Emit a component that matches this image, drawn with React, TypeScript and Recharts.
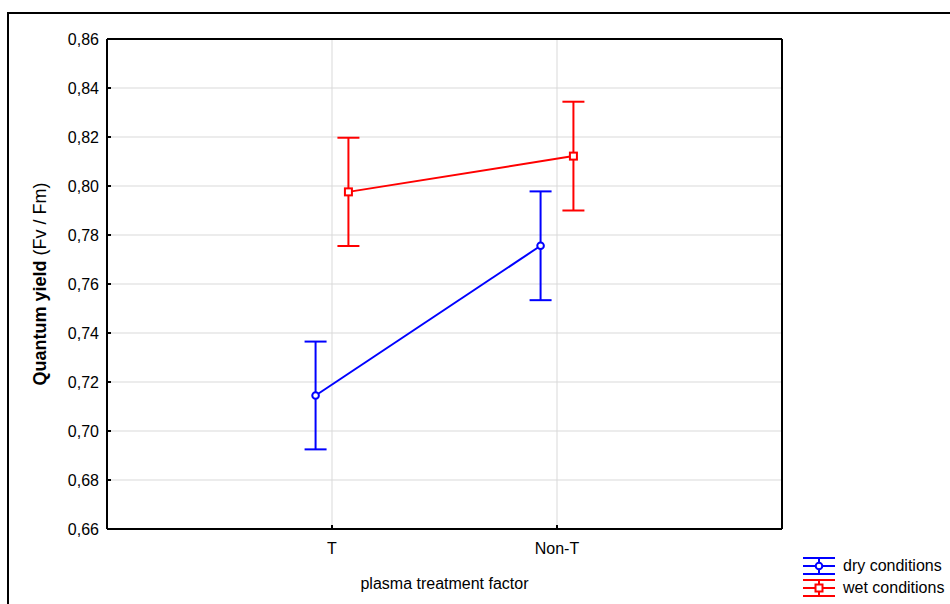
import React from 'react';
import { ComposedChart, Line, XAxis, YAxis, CartesianGrid, ErrorBar, Legend, Label } from 'recharts';

const categories = ['T', 'Non-T'];
const dryMeans = [0.7145, 0.7756];
const dryErrors = [0.022, 0.0222];
const wetMeans = [0.7976, 0.8122];
const wetErrors = [0.0221, 0.0222];
const yTicks = [0.66, 0.68, 0.7, 0.72, 0.74, 0.76, 0.78, 0.8, 0.82, 0.84, 0.86];
const xTicks = [1, 2];
const seriesNames = ['dry conditions', 'wet conditions'];
const seriesColors = ['#0000FF', '#FF0000'];

const FONT = '"Liberation Sans", Arial, sans-serif';
const OFFSET = 0.073;

const dryData = categories.map((c, i) => ({ cat: c, x: i + 1 - OFFSET, y: dryMeans[i], err: dryErrors[i] }));
const wetData = categories.map((c, i) => ({ cat: c, x: i + 1 + OFFSET, y: wetMeans[i], err: wetErrors[i] }));

const CircleDot = (props: any) => {
  const { cx, cy, index } = props;
  return <circle key={`c-${index}`} cx={cx} cy={cy} r={3.3} fill="#fff" stroke={seriesColors[0]} strokeWidth={2} />;
};
const SquareDot = (props: any) => {
  const { cx, cy, index } = props;
  return <rect key={`s-${index}`} x={cx - 3.5} y={cy - 3.5} width={7} height={7} fill="#fff" stroke={seriesColors[1]} strokeWidth={2} />;
};

const LegendIcon = ({ color, square }: { color: string; square: boolean }) => (
  <svg width={32} height={18} style={{ display: 'block' }}>
    <line x1={0} x2={32} y1={1} y2={1} stroke={color} strokeWidth={2} />
    <line x1={0} x2={32} y1={9} y2={9} stroke={color} strokeWidth={2} />
    <line x1={0} x2={32} y1={17} y2={17} stroke={color} strokeWidth={2} />
    <line x1={16} x2={16} y1={1} y2={17} stroke={color} strokeWidth={2} />
    {square ? (
      <rect x={12.5} y={5.5} width={7} height={7} fill="#fff" stroke={color} strokeWidth={2} />
    ) : (
      <circle cx={16} cy={9} r={3.3} fill="#fff" stroke={color} strokeWidth={2} />
    )}
  </svg>
);

const LegendContent = () => (
  <div style={{ fontFamily: FONT, fontSize: 16, color: '#000' }}>
    {seriesNames.map((n, i) => (
      <div key={n} style={{ display: 'flex', alignItems: 'center', height: 22 }}>
        <LegendIcon color={seriesColors[i]} square={i === 1} />
        <span style={{ marginLeft: 8, lineHeight: '18px' }}>{n}</span>
      </div>
    ))}
  </div>
);

const YLabel = (props: any) => {
  const vb = props.viewBox || {};
  const x = (vb.x ?? 0) + 40;
  const y = (vb.y ?? 0) + (vb.height ?? 0) / 2;
  return (
    <text x={x} y={y} transform={`rotate(-90, ${x}, ${y})`} textAnchor="middle" dominantBaseline="central"
      fontFamily={FONT} fontSize={18} fill="#000">
      <tspan fontWeight="bold">Quantum yield</tspan>
      <tspan> (Fv / Fm)</tspan>
    </text>
  );
};

const XLabel = (props: any) => {
  const vb = props.viewBox || {};
  const x = (vb.x ?? 0) + (vb.width ?? 0) / 2;
  const y = (vb.y ?? 0) + 54;
  return (
    <text x={x} y={y} textAnchor="middle" dominantBaseline="central" fontFamily={FONT} fontSize={16} fill="#000">
      plasma treatment factor
    </text>
  );
};

const axisLine = { stroke: '#000', strokeWidth: 2 };
const tickLine = { stroke: '#000', strokeWidth: 2 };
const tickStyle = { fill: '#000', fontSize: 16, fontFamily: FONT };

export default function App() {
  return (
    <div style={{ position: 'absolute', left: 0, top: 0, width: 950, height: 604, overflow: 'hidden', background: '#fff' }}>
      <div style={{ position: 'absolute', left: 7, top: 12, width: 1000, height: 700, border: '2px solid #000', boxShadow: '0 1px 0 #bbb' }} />
      <div style={{ position: 'absolute', left: 0, top: 0 }}>
        <ComposedChart width={950} height={604} margin={{ top: 38, right: 167, bottom: 0, left: 0 }}>
          <CartesianGrid stroke="#d9d9d9" strokeWidth={1} xAxisId={0} yAxisId={0} />
          <XAxis xAxisId={0} dataKey="x" type="number" domain={[0, 3]} ticks={xTicks} interval={0}
            allowDataOverflow height={75}
            tickFormatter={(v: number) => categories[Math.round(v) - 1]}
            axisLine={axisLine} tickLine={tickLine} tickSize={-4} tickMargin={18} tick={tickStyle}>
            <Label content={<XLabel />} />
          </XAxis>
          <XAxis xAxisId="top" orientation="top" dataKey="x" type="number" domain={[0, 3]} ticks={xTicks} interval={0}
            allowDataOverflow height={1} axisLine={axisLine} tickLine={tickLine} tickSize={-4} tick={false} />
          <YAxis yAxisId={0} type="number" domain={[0.66, 0.86]} ticks={yTicks} interval={0} allowDataOverflow width={107}
            tickFormatter={(v: number) => v.toFixed(2).replace('.', ',')}
            axisLine={axisLine} tickLine={tickLine} tickSize={-4} tickMargin={12} tick={tickStyle}>
            <Label content={<YLabel />} />
          </YAxis>
          <YAxis yAxisId="r" orientation="right" type="number" domain={[0.66, 0.86]} ticks={yTicks} interval={0}
            allowDataOverflow width={1} axisLine={axisLine} tickLine={tickLine} tickSize={-4} tick={false} />
          <Line data={wetData} dataKey="y" xAxisId="top" yAxisId="r" stroke="none" strokeWidth={0} dot={false}
            activeDot={false} legendType="none" isAnimationActive={false} />
          <Line data={dryData} dataKey="y" name={seriesNames[0]} xAxisId={0} yAxisId={0} stroke={seriesColors[0]}
            strokeWidth={2} dot={CircleDot} activeDot={false} isAnimationActive={false} type="linear">
            <ErrorBar dataKey="err" direction="y" width={11} strokeWidth={2} stroke={seriesColors[0]} isAnimationActive={false} />
          </Line>
          <Line data={wetData} dataKey="y" name={seriesNames[1]} xAxisId={0} yAxisId={0} stroke={seriesColors[1]}
            strokeWidth={2} dot={SquareDot} activeDot={false} isAnimationActive={false} type="linear">
            <ErrorBar dataKey="err" direction="y" width={11} strokeWidth={2} stroke={seriesColors[1]} isAnimationActive={false} />
          </Line>
          <Legend layout="vertical" align="center" verticalAlign="middle" content={<LegendContent />}
            wrapperStyle={{ position: 'absolute', left: 803, top: 555, width: 147, right: 'auto', bottom: 'auto' }} />
        </ComposedChart>
      </div>
    </div>
  );
}
